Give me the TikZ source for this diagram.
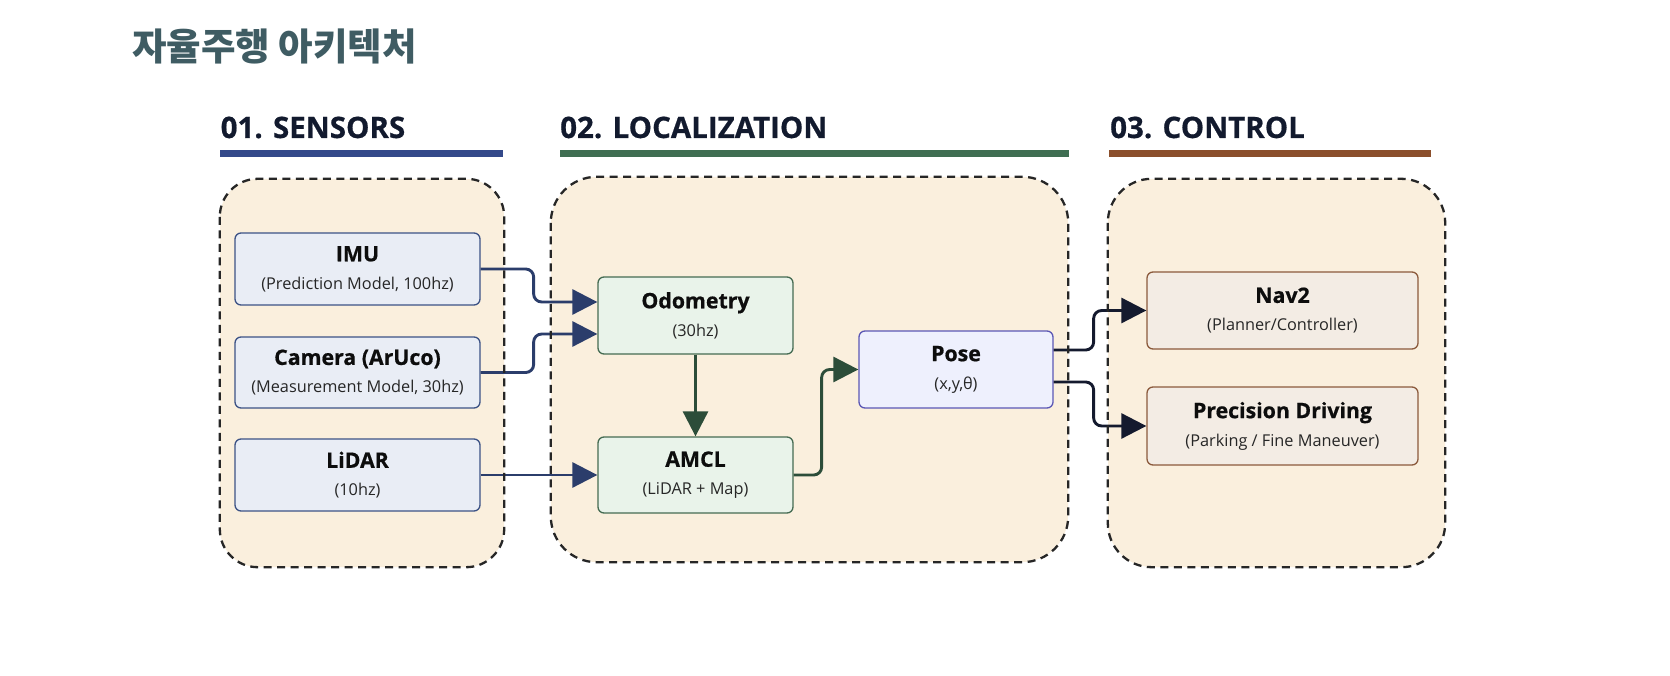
\documentclass[tikz,border=0pt]{standalone}
\usepackage{fontspec}
\setmainfont{Open Sans}
\newfontfamily\headfont{Open Sans}[UprightFeatures={FakeBold=0.6}, BoldFeatures={FakeBold=0.6}]
\newfontfamily\krfont{Noto Sans CJK KR}
\usetikzlibrary{arrows.meta}
\definecolor{grpfill}{HTML}{FAEFDD}
\definecolor{titlecol}{HTML}{3F5C63}
\definecolor{headcol}{HTML}{121A2E}
\definecolor{barblue}{HTML}{34498A}
\definecolor{bargreen}{HTML}{3F6E52}
\definecolor{barbrown}{HTML}{8B4F2C}
\definecolor{sfill}{HTML}{E9EDF5}
\definecolor{sdraw}{HTML}{3C5285}
\definecolor{lfill}{HTML}{E9F3EA}
\definecolor{ldraw}{HTML}{456B52}
\definecolor{pfill}{HTML}{EEF0FD}
\definecolor{pdraw}{HTML}{5B57B5}
\definecolor{cfill}{HTML}{F3ECE4}
\definecolor{cdraw}{HTML}{8B5A3C}
\definecolor{navyline}{HTML}{2B3D6B}
\definecolor{greenline}{HTML}{2C4D39}
\definecolor{darkline}{HTML}{141A2E}
\newcommand\bxt[2]{{\headfont\fontsize{21.3}{28}\selectfont\bfseries\color{black!95}#1}\\#2}
\begin{document}
\begin{tikzpicture}[x=1pt,y=-1pt,
  grp/.style={fill=grpfill, draw=none, inner sep=0pt},
  grpline/.style={draw=black!85, line width=2.3pt, dash pattern=on 8pt off 5.5pt},
  headtxt/.style={anchor=base west, inner sep=0pt, text=headcol, font=\headfont\fontsize{29.5}{31}\selectfont\bfseries},
  bar/.style={line width=7pt},
  card/.style={rounded corners=6pt, line width=1.3pt, align=center, inner sep=0pt,
    font=\fontsize{16.3}{28}\selectfont, text=black!85},
  sbox/.style={card, draw=sdraw, fill=sfill, minimum width=245pt, minimum height=72pt},
  lbox/.style={card, draw=ldraw, fill=lfill, minimum width=195pt, minimum height=77pt},
  pbox/.style={card, draw=pdraw, fill=pfill, minimum width=194pt, minimum height=77pt},
  cbox/.style={card, draw=cdraw, fill=cfill, minimum width=271pt, minimum height=77pt},
  conn/.style={line width=2.9pt, rounded corners=8pt, -{Triangle[length=25pt,width=25pt]}},
  sconn/.style={conn, draw=navyline, navyline},
  gconn/.style={conn, draw=greenline, greenline},
  cconn/.style={conn, draw=darkline, darkline}
]
\useasboundingbox[fill=white] (0,0) rectangle (1670,676);

% title
\node[anchor=west, inner sep=0pt, text=titlecol, font=\krfont\fontsize{37.5}{40}\selectfont\bfseries] (title) at (132,46) {자율주행 아키텍처};

% headings
\node[headtxt] (h1) at (220.5,138) {01. SENSORS};
\node[headtxt] (h2) at (560,138) {02. LOCALIZATION};
\node[headtxt] (h3) at (1110,138) {03. CONTROL};
\coordinate (b1s) at (220,153.5); \coordinate (b1e) at (503,153.5);
\coordinate (b2s) at (560,153.5); \coordinate (b2e) at (1069,153.5);
\coordinate (b3s) at (1109,153.5); \coordinate (b3e) at (1431,153.5);
\draw[bar, barblue] (b1s) -- (b1e);
\draw[bar, bargreen] (b2s) -- (b2e);
\draw[bar, barbrown] (b3s) -- (b3e);

% groups (fill)
\node[grp, rounded corners=38pt, minimum width=284pt, minimum height=388pt] (gs) at (362,373) {};
\node[grp, rounded corners=46pt, minimum width=517pt, minimum height=385pt] (gl) at (809.5,369.5) {};
\node[grp, rounded corners=44pt, minimum width=337pt, minimum height=388pt] (gc) at (1276.5,373) {};

% sensors
\node[sbox] (imu) at (357.5,269) {\bxt{IMU}{(Prediction Model, 100hz)}};
\node[sbox, minimum height=71pt] (cam) at (357.5,372.5) {\bxt{Camera (ArUco)}{(Measurement Model, 30hz)}};
\node[sbox] (lid) at (357.5,475) {\bxt{LiDAR}{(10hz)}};

% localization
\node[lbox] (odo) at (695.5,315.5) {\bxt{Odometry}{(30hz)}};
\node[lbox, minimum height=76pt] (amcl) at (695.5,475) {\bxt{AMCL}{(LiDAR + Map)}};
\node[pbox] (pose) at (956,369.5) {\bxt{Pose}{(x,y,θ)}};

% control
\node[cbox] (nav) at (1282.5,310.5) {\bxt{Nav2}{(Planner/Controller)}};
\node[cbox, minimum height=78pt] (prec) at (1282.5,426) {\bxt{Precision Driving}{(Parking / Fine Maneuver)}};

% connectors
\draw[sconn] (imu.east) -- ++(53,0) |- ([yshift=13.5pt]odo.west);
\draw[sconn] (cam.east) -- ++(53,0) |- ([yshift=-18.5pt]odo.west);
\draw[sconn] (lid.east) -- (amcl.west);
\draw[gconn] (odo.south) -- (amcl.north);
\draw[gconn] (amcl.east) -- ++(28,0) |- (pose.west);
\draw[cconn] ([yshift=19.5pt]pose.east) -- ++(40,0) |- (nav.west);
\draw[cconn] ([yshift=-12.5pt]pose.east) -- ++(40,0) |- (prec.west);

% group borders on top
\draw[grpline, rounded corners=38pt] (gs.north west) rectangle (gs.south east);
\draw[grpline, rounded corners=46pt] (gl.north west) rectangle (gl.south east);
\draw[grpline, rounded corners=44pt] (gc.north west) rectangle (gc.south east);
\end{tikzpicture}
\end{document}
